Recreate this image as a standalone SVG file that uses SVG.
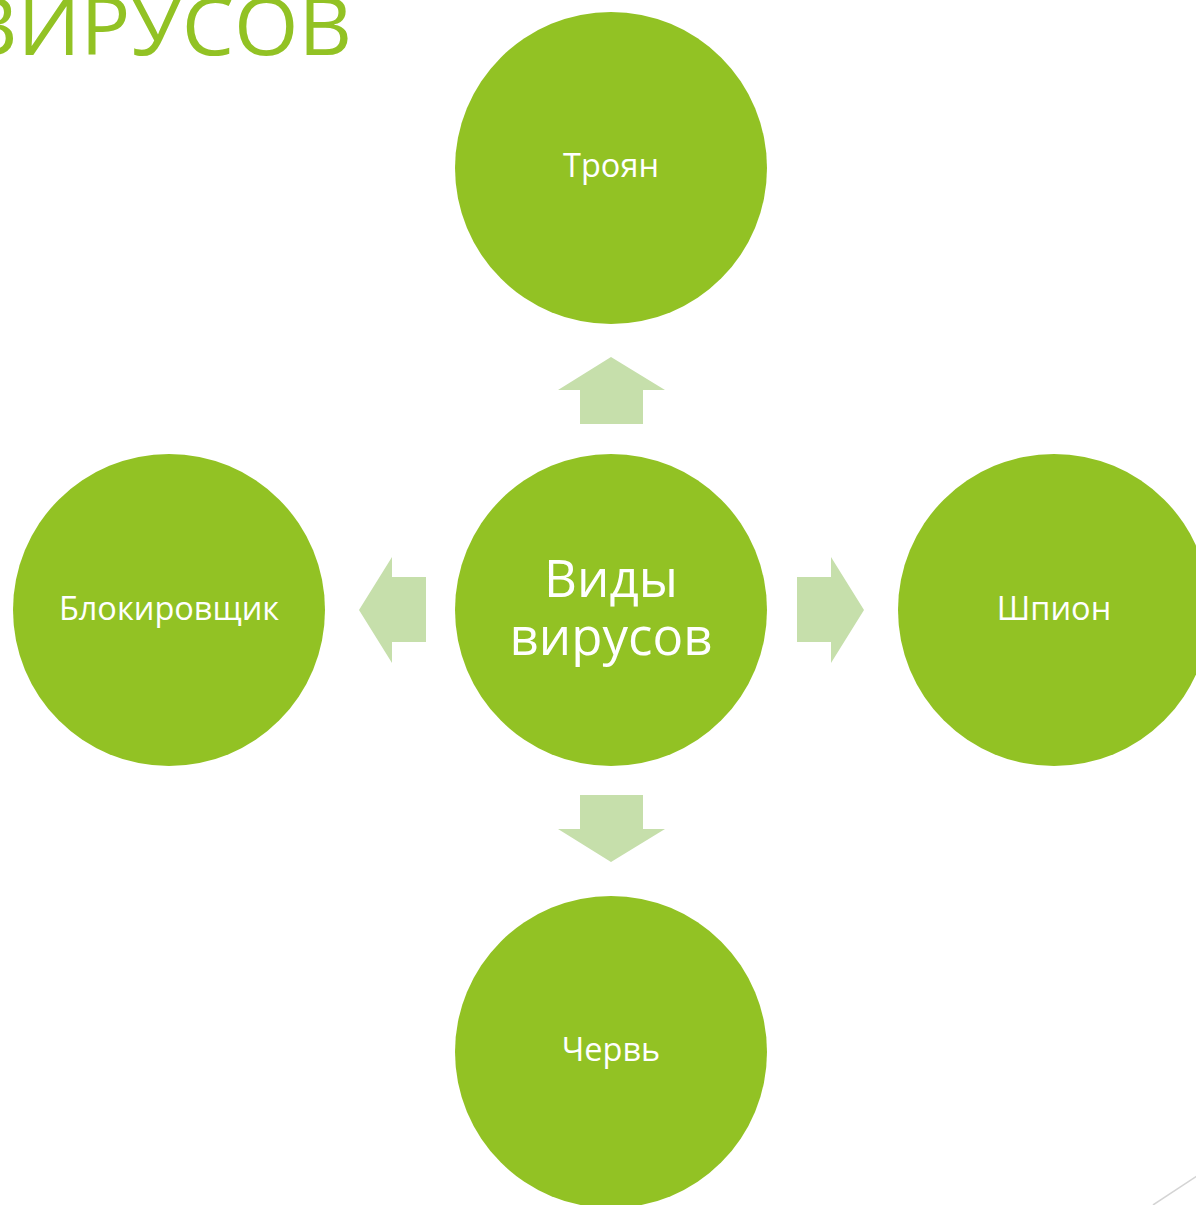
<svg xmlns="http://www.w3.org/2000/svg" width="1196" height="1205" viewBox="0 0 1196 1205">
<style>
.node{fill:#92C224}
.arr{fill:#C6DFAB}
.lbl{font-family:"Open Sans","Noto Sans","DejaVu Sans",sans-serif;fill:#FFFFFF;text-anchor:middle;font-size:32.5px}
.big{font-size:51px}
.title{font-family:"Open Sans","Noto Sans","DejaVu Sans",sans-serif;fill:#92C224;font-size:80px}
</style>
<rect width="1196" height="1205" fill="#FFFFFF"/>
<text class="title" x="-36" y="55" textLength="388" lengthAdjust="spacingAndGlyphs">ВИРУСОВ</text>
<line x1="1153" y1="1205" x2="1197" y2="1176" stroke="#D4D4D4" stroke-width="1.5"/>
<g id="connectors">
<polygon class="arr" points="611,357 665,390 643,390 643,424 580,424 580,390 558,390"/>
<polygon class="arr" points="359,610 392,557 392,577 426,577 426,642 392,642 392,663"/>
<polygon class="arr" points="864,610 831,557 831,577 797,577 797,642 831,642 831,663"/>
<polygon class="arr" points="611,862 665,829 643,829 643,795 580,795 580,829 558,829"/>
</g>
<g id="center">
<circle class="node" cx="611" cy="610" r="156"/>
<text class="lbl big" x="611" y="597">Виды</text>
<text class="lbl big" x="611" y="655">вирусов</text>
</g>
<g id="troyan">
<circle class="node" cx="611" cy="168" r="156"/>
<text class="lbl" x="611" y="177">Троян</text>
</g>
<g id="blocker">
<circle class="node" cx="169" cy="610" r="156"/>
<text class="lbl" x="169" y="620">Блокировщик</text>
</g>
<g id="spy">
<circle class="node" cx="1054" cy="610" r="156"/>
<text class="lbl" x="1054" y="620">Шпион</text>
</g>
<g id="worm">
<circle class="node" cx="611" cy="1052" r="156"/>
<text class="lbl" x="611" y="1061">Червь</text>
</g>
</svg>
